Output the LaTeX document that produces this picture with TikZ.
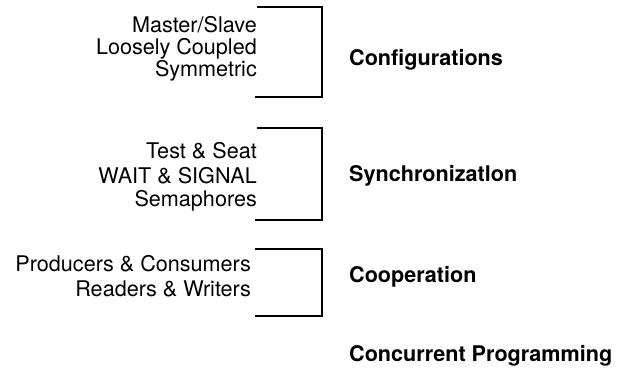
\documentclass[tikz,border=0pt]{standalone}
\usepackage{fontspec}
\setmainfont{TeX Gyre Heros}
\begin{document}
\begin{tikzpicture}[x=1pt,y=-1pt,
  item/.style={anchor=base east,inner sep=0pt,font=\fontsize{21.6}{24}\selectfont},
  label/.style={anchor=base west,inner sep=0pt,font=\fontsize{21.6}{24}\selectfont\bfseries},
  bracket/.style={line width=1.8pt}]
\useasboundingbox (0,0) rectangle (618,374);
% group 1
\node[item] (ms) at (257,33) {Master/Slave};
\node[item] (lc) at (257,55) {Loosely Coupled};
\node[item] (sy) at (257,77) {Symmetric};
\coordinate (b1a) at (257,7);
\coordinate (b1b) at (322,7);
\coordinate (b1c) at (322,97);
\coordinate (b1d) at (255,97);
\draw[bracket] (b1a) -- (b1b) -- (b1c) -- (b1d);
\node[label] (conf) at (349,66) {Configurations};
% group 2
\node[item] (ts) at (257,159) {Test \& Seat};
\node[item] (ws) at (257,183) {WAIT \& SIGNAL};
\node[item] (se) at (257,207) {Semaphores};
\coordinate (b2a) at (257,128);
\coordinate (b2b) at (322,128);
\coordinate (b2c) at (322,220);
\coordinate (b2d) at (255,220);
\draw[bracket] (b2a) -- (b2b) -- (b2c) -- (b2d);
\node[label] (sync) at (349,182) {Synchronizatlon};
% group 3
\node[item] (pc) at (251,271) {Producers \& Consumers};
\node[item] (rw) at (251,296) {Readers \& Writers};
\coordinate (b3a) at (255,249);
\coordinate (b3b) at (322,249);
\coordinate (b3c) at (322,316);
\coordinate (b3d) at (255,316);
\draw[bracket] (b3a) -- (b3b) -- (b3c) -- (b3d);
\node[label] (coop) at (349,282) {Cooperation};
\node[label] (conc) at (349,361) {Concurrent Programming};
\end{tikzpicture}
\end{document}
